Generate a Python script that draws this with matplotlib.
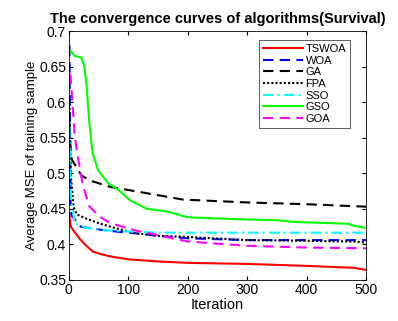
import matplotlib
matplotlib.use("Agg")
import matplotlib.pyplot as plt

plt.rcParams['font.family'] = ['Liberation Sans', 'DejaVu Sans']

# keypoints (iteration, average MSE)
tswoa_it = [1, 2, 4, 10, 18, 27, 40, 55, 70, 100, 150, 200, 300, 400, 480, 500]
tswoa_v = [0.444, 0.43, 0.424, 0.417, 0.408, 0.4, 0.39, 0.386, 0.383, 0.379, 0.376, 0.374, 0.3725, 0.3697, 0.367, 0.364]

woa_it = [1, 2, 3, 5, 10, 20, 40, 80, 120, 150, 200, 300, 400, 500]
woa_v = [0.68, 0.55, 0.45, 0.44, 0.435, 0.425, 0.422, 0.418, 0.415, 0.412, 0.4085, 0.406, 0.406, 0.406]

ga_it = [1, 3, 5, 12, 21, 35, 69, 131, 192, 300, 400, 500]
ga_v = [0.57, 0.53, 0.519, 0.51, 0.497, 0.49, 0.481, 0.472, 0.463, 0.459, 0.4565, 0.453]

fpa_it = [1, 3, 8, 14, 30, 50, 69, 110, 150, 200, 300, 400, 480, 500]
fpa_v = [0.61, 0.5, 0.452, 0.442, 0.436, 0.43, 0.425, 0.416, 0.412, 0.4105, 0.406, 0.405, 0.404, 0.4025]

sso_it = [1, 2, 4, 10, 30, 60, 100, 150, 200, 300, 400, 500]
sso_v = [0.565, 0.5, 0.46, 0.43, 0.423, 0.42, 0.418, 0.4165, 0.4165, 0.4165, 0.4165, 0.4165]

gso_it = [1, 3, 10, 21, 26, 30, 34, 40, 49, 66, 83, 103, 131, 167, 200, 300, 350, 380, 470, 480, 500]
gso_v = [0.67, 0.672, 0.665, 0.663, 0.65, 0.622, 0.575, 0.528, 0.505, 0.486, 0.477, 0.462, 0.45, 0.446, 0.438, 0.435, 0.434, 0.4315, 0.429, 0.426, 0.423]

goa_it = [1, 3, 6, 10, 16, 24, 35, 52, 69, 110, 150, 200, 300, 400, 500]
goa_v = [0.64, 0.636, 0.599, 0.551, 0.519, 0.481, 0.453, 0.439, 0.43, 0.42, 0.413, 0.404, 0.398, 0.3955, 0.3945]

fig = plt.figure(figsize=(3.98, 3.21), dpi=100)
ax = fig.add_axes([0.173, 0.128, 0.747, 0.775])

ax.plot(tswoa_it, tswoa_v, color='#ff0000', lw=1.5, label='TSWOA')
ax.plot(woa_it, woa_v, color='#0000ff', lw=1.5, ls=(0, (5, 3)), label='WOA')
ax.plot(ga_it, ga_v, color='black', lw=1.5, ls=(0, (5, 3)), label='GA')
ax.plot(fpa_it, fpa_v, color='black', lw=1.5, ls=(0, (1, 1)), label='FPA')
ax.plot(sso_it, sso_v, color='#00ffff', lw=1.5, ls=(0, (5, 2, 1, 2)), label='SSO')
ax.plot(gso_it, gso_v, color='#00ff00', lw=1.5, label='GSO')
ax.plot(goa_it, goa_v, color='#ff00ff', lw=1.5, ls=(0, (5, 3)), label='GOA')

ax.set_xlim(0, 500)
ax.set_ylim(0.35, 0.7)
ax.set_xticks([0, 100, 200, 300, 400, 500])
ax.set_yticks([0.35, 0.4, 0.45, 0.5, 0.55, 0.6, 0.65, 0.7])
ax.set_yticklabels(['0.35', '0.4', '0.45', '0.5', '0.55', '0.6', '0.65', '0.7'])
ax.tick_params(direction='in', top=True, right=True, labelsize=10, length=3, pad=2)
for s in ax.spines.values():
    s.set_linewidth(0.6)

ax.set_xlabel('Iteration', fontsize=10.5, labelpad=1)
ax.set_ylabel('Average MSE of training sample', fontsize=9.5, labelpad=1)
ax.set_title('The convergence curves of algorithms(Survival)', fontsize=10.5, fontweight='bold', pad=6)

leg = ax.legend(loc='upper right', fontsize=8, handlelength=3.6, handletextpad=0.2,
                labelspacing=0.15, borderpad=0.35, fancybox=False, framealpha=1,
                edgecolor='#404040', bbox_to_anchor=(0.946, 0.964), borderaxespad=0)
leg.get_frame().set_linewidth(0.6)

fig.savefig('out.png', dpi=100)
